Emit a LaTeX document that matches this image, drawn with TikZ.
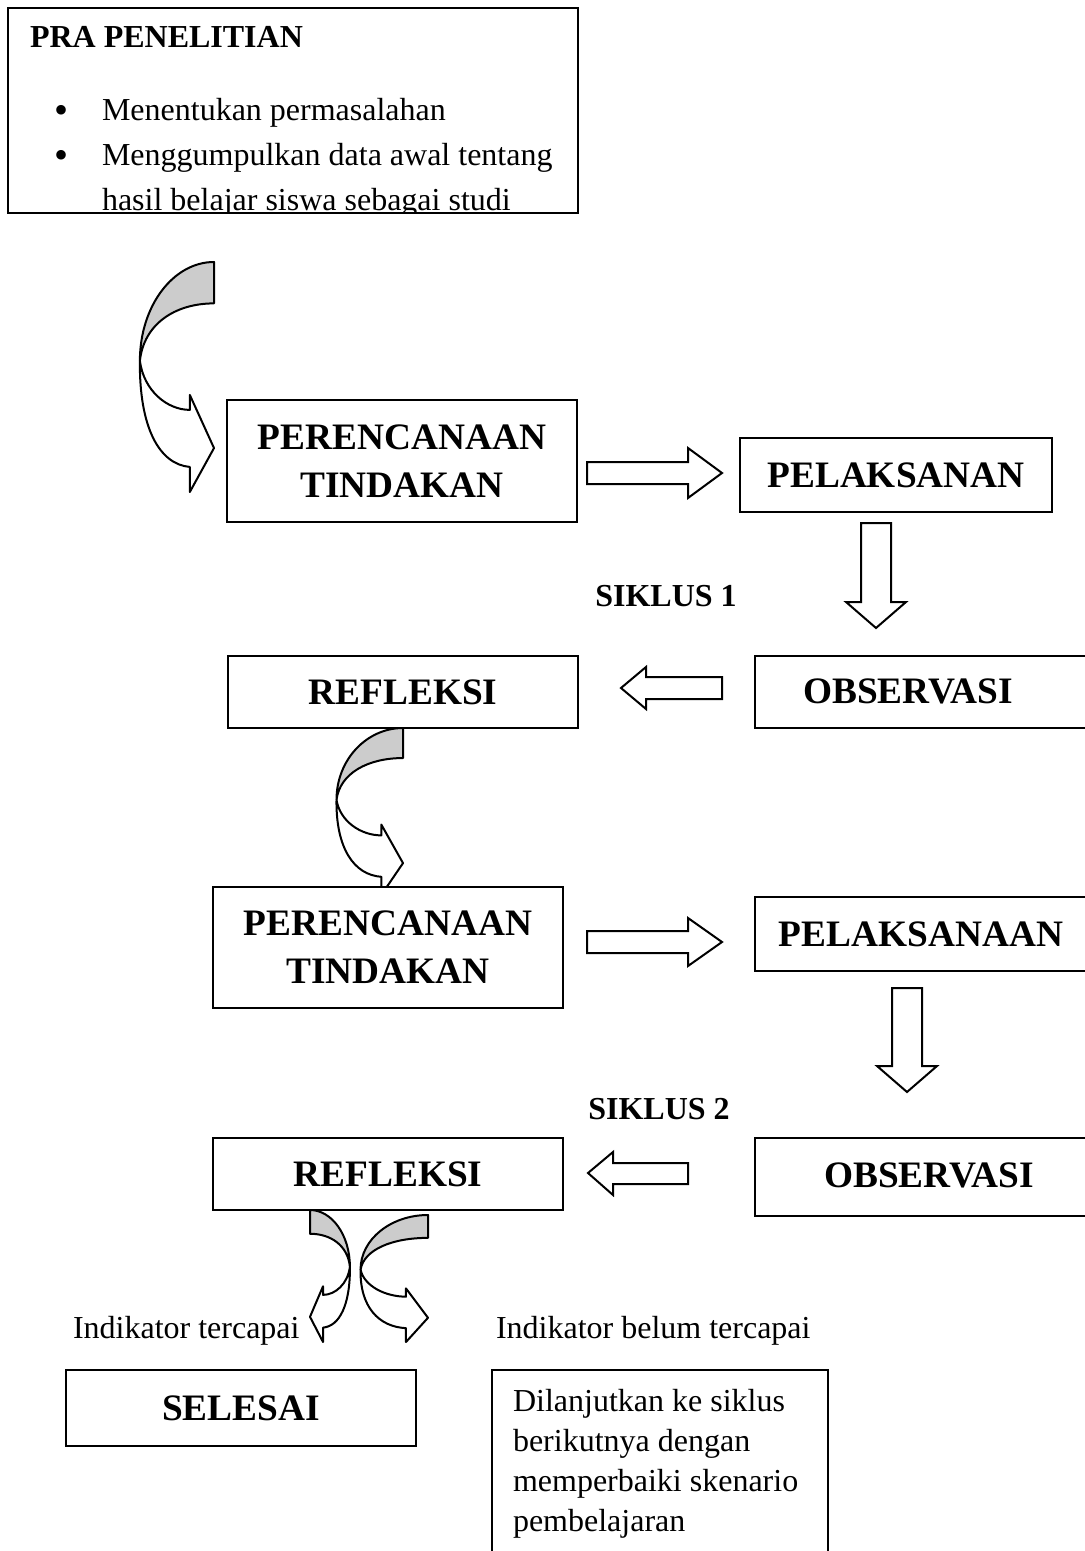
\documentclass[tikz,border=0pt]{standalone}
\usepackage{fontspec}
\setmainfont{Liberation Serif}
\definecolor{shade}{gray}{0.8}
\newcommand{\bigdot}{\raisebox{-1.2pt}{\fontsize{15}{15}\selectfont\textbullet}}

% curved block arrow, drawn in a unit box (x to the right, y downwards)
\tikzset{bentarr/.pic={
  \draw[fill=shade] (1,0) -- (1,0.18) .. controls (0.5,0.18) and (0.1,0.27) .. (0.05,0.43)
    .. controls (0.05,0.19) and (0.48,0) .. (1,0) -- cycle;
  \draw[fill=white] (0.05,0.43) .. controls (0.1,0.56) and (0.4,0.643) .. (0.69,0.643)
    -- (0.69,0.578) -- (1,0.809) -- (0.69,1) -- (0.69,0.891)
    .. controls (0.3,0.88) and (0.04,0.72) .. (0.05,0.43) -- cycle;
}}

\begin{document}
\begin{tikzpicture}[x=0.375pt,y=-0.375pt,line width=0.75pt,
  box/.style={draw,fill=white,inner sep=0pt,align=center,font=\fontsize{14}{18}\selectfont\bfseries},
  sz/.style 2 args={minimum width=#1*0.375pt,minimum height=#2*0.375pt},
  lbl/.style={inner sep=0pt,font=\fontsize{14}{18}\selectfont\bfseries},
  txt/.style={inner sep=0pt,font=\fontsize{12}{15}\selectfont},
  blk/.style={draw,fill=white,line join=miter}]
\fill[white] (0,0) rectangle (1084,1551);
\useasboundingbox (0,0) rectangle (1084,1551);

% pre-research
\begin{scope}
\clip (8,8) rectangle (578,212);
\node[txt,font=\fontsize{12}{15}\selectfont\bfseries,anchor=base west] (praT) at (29,48) {PRA PENELITIAN};
\node[txt,anchor=north west,align=left,font=\fontsize{12}{16.9}\selectfont] (praL) at (101,97)
  {\llap{\bigdot\hspace{12.5pt}}Menentukan permasalahan\\
   \llap{\bigdot\hspace{12.5pt}}Menggumpulkan data awal tentang\\
   hasil belajar siswa sebagai studi};
\end{scope}
\node[box,fill=none,sz={570}{205}] (pra) at (293,110.5) {};

% curved arrows
\pic[line join=round,xscale=78,yscale=230] at (136,262) {bentarr};
\pic[line join=round,xscale=70,yscale=167] at (333,728) {bentarr};
\pic[line join=round,xscale=71,yscale=127] at (357,1215) {bentarr};
\pic[line join=round,xscale=-42,yscale=132] at (352,1210) {bentarr};

% block arrows
\draw[blk] (587,462) -- (688,462) -- (688,448) -- (722,473) -- (688,498) -- (688,484) -- (587,484) -- cycle;
\draw[blk] (861,523) -- (891,523) -- (891,602) -- (906,602) -- (876,628) -- (846,602) -- (861,602) -- cycle;
\draw[blk] (722,677) -- (646,677) -- (646,667) -- (621,688) -- (646,709) -- (646,699) -- (722,699) -- cycle;
\draw[blk] (587,931) -- (688,931) -- (688,918) -- (722,942) -- (688,966) -- (688,953) -- (587,953) -- cycle;
\draw[blk] (892,988) -- (922,988) -- (922,1066) -- (937,1066) -- (907,1092) -- (877,1066) -- (892,1066) -- cycle;
\draw[blk] (688,1163) -- (613,1163) -- (613,1152) -- (588,1173) -- (613,1195) -- (613,1184) -- (688,1184) -- cycle;

% cycle 1
\node[box,sz={350}{122}] (plan1) at (402,461) {PERENCANAAN\\TINDAKAN};
\node[box,sz={312}{74}] (act1) at (896,475) {PELAKSANAN};
\node[txt,font=\fontsize{12}{15}\selectfont\bfseries] (cyc1) at (666,596) {SIKLUS 1};
\node[box,sz={355}{72}] (obs1) at (932.5,692) {};
\node[lbl] (obs1t) at (908,691) {OBSERVASI};
\node[box,sz={350}{72}] (ref1) at (403,692) {REFLEKSI};

% cycle 2
\node[box,sz={350}{121}] (plan2) at (388,947.5) {PERENCANAAN\\TINDAKAN};
\node[box,sz={355}{74}] (act2) at (932.5,934) {};
\node[lbl] (act2t) at (921,934) {PELAKSANAAN};
\node[txt,font=\fontsize{12}{15}\selectfont\bfseries] (cyc2) at (659,1109) {SIKLUS 2};
\node[box,sz={355}{78}] (obs2) at (932.5,1177) {};
\node[lbl] (obs2t) at (929,1175) {OBSERVASI};
\node[box,sz={350}{72}] (ref2) at (388,1174) {REFLEKSI};

% outcome
\node[txt,anchor=base west] (okay) at (72,1338) {Indikator tercapai};
\node[txt,anchor=base west] (notyet) at (495,1338) {Indikator belum tercapai};
\node[box,sz={350}{76}] (done) at (241,1408) {SELESAI};
\node[box,sz={336}{230}] (next) at (660,1485) {};
\node[txt,anchor=north west,align=left] (nextt) at (512,1388)
  {Dilanjutkan ke siklus\\berikutnya dengan\\memperbaiki skenario\\pembelajaran};
\end{tikzpicture}
\end{document}
